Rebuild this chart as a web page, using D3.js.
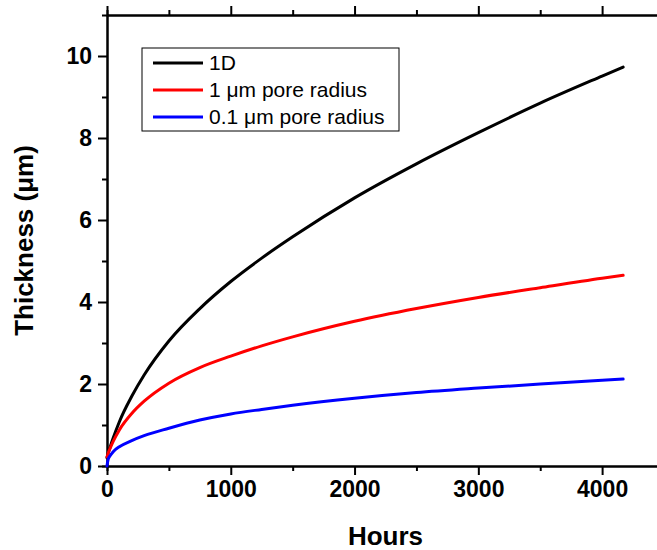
<!DOCTYPE html>
<html>
<head>
<meta charset="utf-8">
<title>Thickness vs hours</title>
<script src="https://d3js.org/d3.v7.min.js"></script>
<style>
  body { margin: 0; background: #fff; }
</style>
</head>
<body>
<div id="chart"></div>
<script>
var FONT = "'Liberation Sans', Arial, Helvetica, sans-serif";

// hours sampled along the curves
var hours = [0, 10, 25, 50, 100, 200, 300, 500, 750, 1000, 1250, 1500, 2000, 2500, 3000, 3500, 4000, 4170];
var thick1D = [0.2, 0.32, 0.46, 0.68, 1.08, 1.7, 2.22, 3.05, 3.84, 4.5, 5.07, 5.59, 6.54, 7.37, 8.13, 8.85, 9.51, 9.73];
var thickPore1 = [0.22, 0.32, 0.43, 0.6, 0.88, 1.28, 1.58, 2.02, 2.4, 2.68, 2.93, 3.15, 3.53, 3.84, 4.11, 4.35, 4.58, 4.65];
var thickPore01 = [0, 0.17, 0.25, 0.35, 0.47, 0.62, 0.74, 0.92, 1.12, 1.27, 1.38, 1.48, 1.65, 1.79, 1.9, 2.0, 2.09, 2.12];

var seriesNames = ["1D", "1 \u03bcm pore radius", "0.1 \u03bcm pore radius"];
var seriesColors = ["#000000", "#ff0000", "#0000ff"];
var seriesValues = [thick1D, thickPore1, thickPore01];

var xTicks = [0, 1000, 2000, 3000, 4000];
var xMinor = [500, 1500, 2500, 3500, 4500];
var yTicks = [0, 2, 4, 6, 8, 10];
var yMinor = [1, 3, 5, 7, 9];

var W = 657, H = 550;
var margin = {top: 15, left: 107, bottom: 84, right: -7};
var width = W - margin.left - margin.right,
    height = H - margin.top - margin.bottom;

var svg = d3.select("#chart").append("svg")
    .attr("width", W)
    .attr("height", H)
    .attr("font-family", FONT);

var g = svg.append("g")
    .attr("transform", "translate(" + margin.left + "," + margin.top + ")");

var x = d3.scaleLinear().domain([0, 4500]).range([0, width]);
var y = d3.scaleLinear().domain([0, 11]).range([height, 0]);

function styleAxis(sel) {
    sel.attr("font-family", FONT);
    sel.selectAll("path, line").attr("stroke", "#000").attr("stroke-width", 2);
    sel.selectAll("text")
        .attr("font-size", 23)
        .attr("font-weight", "bold")
        .attr("fill", "#000");
}

// minor ticks first
g.append("g").attr("transform", "translate(0," + height + ")")
    .call(d3.axisBottom(x).tickValues(xMinor).tickSize(5).tickFormat(""))
    .call(styleAxis);
g.append("g")
    .call(d3.axisTop(x).tickValues(xMinor).tickSize(5).tickFormat(""))
    .call(styleAxis);
g.append("g")
    .call(d3.axisLeft(y).tickValues(yMinor).tickSize(5).tickFormat(""))
    .call(styleAxis);
g.append("g").attr("transform", "translate(" + width + ",0)")
    .call(d3.axisRight(y).tickValues(yMinor).tickSize(5).tickFormat(""))
    .call(styleAxis);

// major ticks
g.append("g").attr("transform", "translate(0," + height + ")")
    .call(d3.axisBottom(x).tickValues(xTicks).tickSize(9).tickSizeOuter(0)
        .tickPadding(6).tickFormat(d3.format("d")))
    .call(styleAxis);
g.append("g")
    .call(d3.axisTop(x).tickValues(xTicks).tickSize(9).tickSizeOuter(0).tickFormat(""))
    .call(styleAxis);
g.append("g")
    .call(d3.axisLeft(y).tickValues(yTicks).tickSize(9).tickSizeOuter(0)
        .tickPadding(6).tickFormat(d3.format("d")))
    .call(styleAxis);
g.append("g").attr("transform", "translate(" + width + ",0)")
    .call(d3.axisRight(y).tickValues(yTicks).tickSize(9).tickSizeOuter(0).tickFormat(""))
    .call(styleAxis);

// curves
var line = d3.line()
    .x(function(d) { return x(d[0]); })
    .y(function(d) { return y(d[1]); })
    .curve(d3.curveMonotoneX);

seriesValues.forEach(function(vals, i) {
    var pts = hours.map(function(h, j) { return [h, vals[j]]; });
    g.append("path")
        .datum(pts)
        .attr("fill", "none")
        .attr("stroke", seriesColors[i])
        .attr("stroke-width", 3)
        .attr("stroke-linejoin", "round")
        .attr("stroke-linecap", "round")
        .attr("d", line);
});

// axis titles
svg.append("text")
    .attr("x", margin.left + x(2250))
    .attr("y", 545)
    .attr("text-anchor", "middle")
    .attr("font-size", 26)
    .attr("font-weight", "bold")
    .text("Hours");

svg.append("text")
    .attr("transform", "translate(33," + (margin.top + height / 2) + ") rotate(-90)")
    .attr("text-anchor", "middle")
    .attr("font-size", 26)
    .attr("font-weight", "bold")
    .text("Thickness (\u03bcm)");

// legend
var legend = svg.append("g").attr("transform", "translate(142,48)");
legend.append("rect")
    .attr("width", 257).attr("height", 83)
    .attr("fill", "#fff").attr("stroke", "#000").attr("stroke-width", 1);

seriesNames.forEach(function(name, i) {
    var ly = 15 + i * 27;
    legend.append("line")
        .attr("x1", 11).attr("x2", 61)
        .attr("y1", ly).attr("y2", ly)
        .attr("stroke", seriesColors[i]).attr("stroke-width", 3);
    legend.append("text")
        .attr("x", 67).attr("y", ly + 7)
        .attr("font-size", 21)
        .text(name);
});
</script>
</body>
</html>
